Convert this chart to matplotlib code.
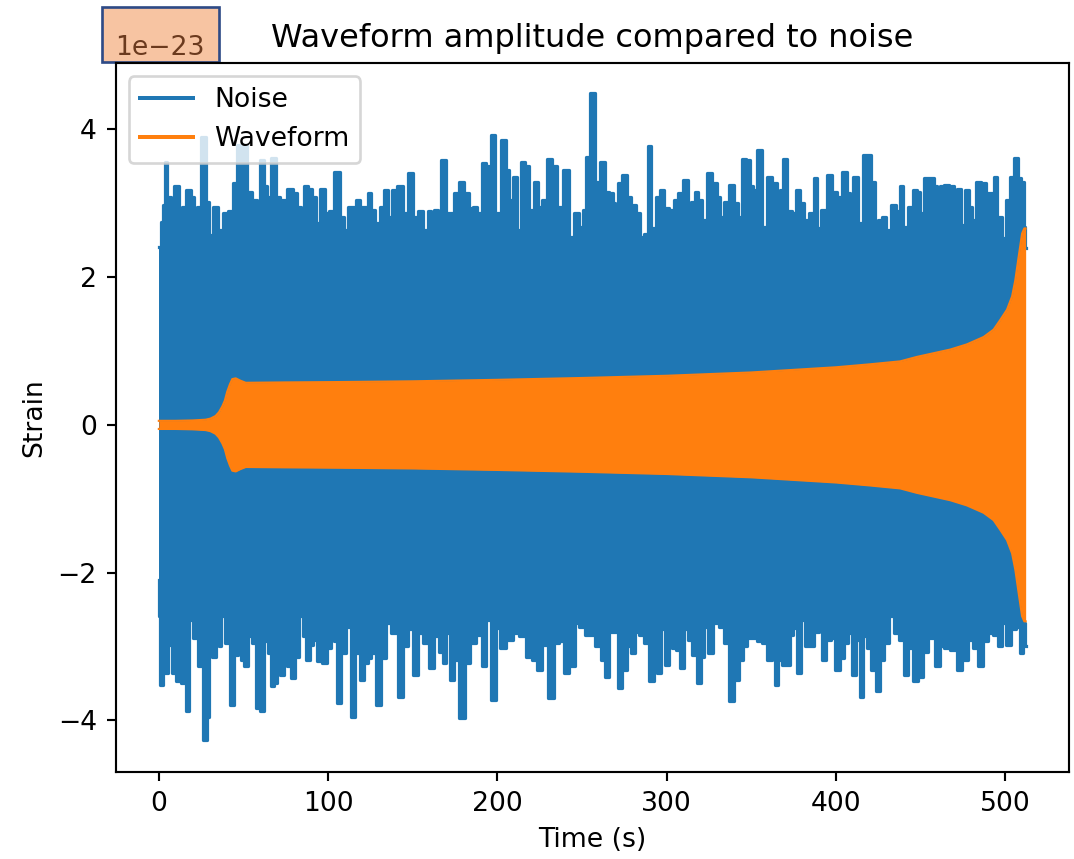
import numpy as np
import matplotlib
matplotlib.use("Agg")
import matplotlib.pyplot as plt
from matplotlib.patches import Rectangle

SCALE = 1e-23  # strain values below are in units of 1e-23

# Noise: upper peaks (time in s, strain)
noise_top_t = [0, 2.0, 3.0, 3.9, 5.9, 7.9, 9.5, 10.8, 12.8, 14.8, 16.8, 18.1, 19.7, 21.7,
               23.7, 26.6, 28.6, 30.6, 33.5, 36.5, 39.4, 42.4, 45.4, 47.3, 50.3, 53.3, 57.2,
               59.2, 60.7, 63.1, 64.1, 68.0, 70.0, 73.0, 77.9, 80.9, 82.8, 84.8, 86.8, 89.7,
               91.7, 93.7, 96.6, 99.6, 101.6, 105.5, 108.5, 110.5, 112.4, 115.4, 117.4, 120.3,
               122.3, 124.3, 126.2, 129.2, 132.1, 134.1, 136.1, 139.1, 142.0, 146.0, 148.9,
               151.9, 154.8, 157.8, 159.8, 161.7, 163.7, 165.7, 168.2, 170.6, 173.6, 175.5,
               178.5, 181.5, 184.4, 186.4, 189.3, 192.3, 194.3, 195.3, 197.2, 200.2, 203.6,
               206.1, 208.1, 210.1, 212.6, 215.0, 217.9, 219.9, 222.9, 224.9, 227.8, 230.8,
               233.7, 236.7, 240.6, 244.2, 246.5, 249.5, 251.5, 253.5, 256.4, 259.4,
               262.3, 264.3, 267.2, 269.2, 270.2, 272.2, 275.1, 278.1, 279.5, 281.0, 283.0,
               285.0, 288.0, 289.9, 291.9, 294.9, 296.8, 299.4, 302.7, 305.7, 307.7, 311.6,
               313.6, 315.6, 317.5, 319.5, 322.5, 325.4, 328.4, 330.4, 332.3, 335.3, 338.8,
               341.2, 343.2, 346.1, 348.1, 350.1, 352.1, 355.0, 357.0, 360.9, 363.9, 365.9,
               367.8, 369.8, 372.8, 374.7, 377.7, 379.7, 382.6, 385.6, 388.1, 389.5, 392.5,
               396.4, 399.4, 402.3, 405.3, 407.3, 409.2, 411.2, 414.2, 417.1, 419.1, 422.1,
               423.6, 426.0, 428.0, 430.9, 433.9, 436.9, 438.8, 440.8, 443.8, 446.7, 448.7,
               450.7, 453.6, 456.6, 458.6, 460.5, 462.5, 465.5, 468.4, 470.4, 472.4, 475.3,
               477.3, 479.3, 481.2, 484.2, 487.2, 489.5, 492.1, 494.1, 496.6, 499.4, 501.9,
               503.9, 506.5, 508.5, 509.8, 511.8, 512.0]
noise_top = [2.41, 2.75, 2.98, 3.56, 3.09, 2.87, 3.23, 3.23, 2.82, 2.95, 3.18, 3.18, 3.09, 2.91,
             2.95, 3.90, 3.02, 2.57, 2.95, 2.64, 2.87, 2.89, 3.27, 3.79, 3.79, 3.16, 3.05,
             2.59, 3.59, 3.23, 3.09, 3.62, 3.09, 3.05, 3.20, 3.14, 2.95, 2.82, 3.23, 3.20,
             3.09, 2.73, 3.20, 2.87, 2.89, 3.43, 2.82, 2.64, 2.95, 2.95, 3.05, 2.95,
             2.95, 3.14, 2.91, 2.73, 2.95, 3.18, 2.82, 3.18, 3.23, 2.87, 3.41,
             2.82, 2.89, 2.64, 2.89, 2.62, 2.91, 2.82, 3.58, 2.87, 2.87, 3.14,
             3.29, 3.14, 2.93, 2.95, 2.87, 3.54, 3.50, 3.05, 3.92, 2.87, 3.86,
             3.45, 3.05, 3.36, 2.64, 3.56, 3.50, 2.91, 3.29, 2.95, 3.05, 3.60,
             3.50, 2.95, 3.45, 2.55, 2.87, 2.68, 2.91, 3.63, 4.49, 3.29,
             3.56, 3.16, 3.14, 3.00, 2.82, 3.27, 3.38, 3.09, 2.75, 2.98, 2.87,
             2.55, 2.59, 3.77, 2.66, 3.09, 3.18, 2.93, 2.91, 3.05, 3.14, 3.31,
             2.73, 3.02, 3.16, 3.05, 2.77, 3.41, 3.27, 3.09, 2.82, 3.02, 3.25,
             3.00, 2.82, 3.60, 3.59, 3.23, 3.18, 3.72, 2.68, 3.36, 3.27, 2.91,
             3.18, 3.60, 2.89, 2.87, 3.18, 3.00, 2.77, 2.87, 3.34, 2.66, 2.91,
             3.38, 3.16, 3.09, 3.43, 3.14, 2.87, 3.36, 2.73, 3.65, 3.65, 3.29,
             2.59, 2.77, 2.82, 2.64, 2.98, 2.89, 3.23, 2.68, 2.95, 3.18, 3.16,
             2.87, 3.34, 3.34, 3.23, 2.53, 3.23, 3.25, 3.23, 2.71, 3.20, 2.71,
             3.18, 2.95, 2.77, 3.29, 3.27, 3.14, 3.14, 3.36, 2.82, 2.53, 3.05,
             3.36, 3.61, 3.34, 3.29, 2.68, 2.40]

# Noise: lower troughs (time in s, strain)
noise_bot_t = [0, 0.3, 1.6, 3.9, 6.9, 8.9, 11.8, 14.8, 16.8, 18.7, 21.7, 24.7, 27.2, 29.2,
               30.6, 32.5, 34.5, 36.5, 37.5, 40.4, 43.4, 45.8, 47.7, 49.3, 51.3, 54.2, 56.2,
               58.2, 61.1, 63.5, 65.5, 67.5, 69.0, 70.6, 73.0, 74.9, 76.9, 79.3, 81.9, 84.2,
               85.8, 87.8, 90.3, 92.3, 94.7, 97.6, 100.6, 102.6, 104.5, 106.5, 108.9, 112.0,
               114.8, 117.4, 120.3, 122.3, 124.3, 126.6, 130.2, 132.1, 135.7, 139.1, 143.0,
               146.0, 147.9, 151.9, 154.8, 157.8, 161.3, 163.7, 166.7, 168.6, 171.0, 173.0,
               175.5, 179.5, 182.4, 185.4, 189.3, 192.3, 194.5, 197.6, 200.2, 203.2, 207.1,
               211.0, 215.0, 218.9, 221.9, 224.5, 227.8, 231.8, 234.7, 237.7, 240.6, 243.6,
               247.5, 248.5, 254.4, 260.3, 262.3, 264.3, 267.2, 269.8, 272.6, 275.1, 277.7,
               280.1, 282.4, 285.0, 288.0, 290.9, 293.5, 294.9, 297.8, 300.2, 302.1, 304.7,
               306.7, 308.7, 311.2, 313.6, 316.5, 319.1, 321.1, 323.1, 325.4, 329.4, 332.3,
               335.3, 338.8, 341.2, 344.2, 346.1, 349.1, 352.1, 355.0, 358.0, 360.9, 362.9,
               364.9, 366.8, 369.8, 371.8, 373.7, 375.7, 378.3, 380.6, 382.6, 385.6, 388.5,
               390.9, 393.1, 395.4, 398.4, 400.8, 403.3, 406.3, 408.3, 410.8, 413.2, 414.8,
               417.1, 419.1, 421.7, 425.0, 427.0, 429.6, 432.9, 435.9, 438.8, 441.4, 443.8,
               446.7, 449.7, 452.6, 456.6, 459.9, 462.5, 465.5, 469.4, 473.0, 476.3, 479.7,
               482.2, 485.2, 488.1, 491.1, 494.7, 496.6, 499.0, 501.9, 504.9, 507.9, 509.4,
               511.3, 512.0]
noise_bot = [-2.10, -2.59, -3.52, -3.36, -2.98, -3.36, -3.47, -3.50, -3.88, -2.64, -2.89, -3.27,
             -4.26, -3.95, -3.00, -3.14, -2.98, -3.00, -2.59, -2.95, -3.79, -3.11, -2.80,
             -3.18, -3.27, -2.86, -2.95, -3.83, -3.88, -2.93, -3.09, -3.54, -3.50, -2.98,
             -3.38, -3.20, -3.27, -3.43, -3.14, -2.59, -2.86, -3.18, -2.98, -2.91, -3.20,
             -3.23, -3.02, -2.86, -2.93, -3.77, -3.09, -2.73, -3.95, -3.09, -3.45, -3.23,
             -3.16, -3.09, -3.79, -3.16, -2.68, -2.82, -3.68, -3.00, -2.77, -3.38, -2.82,
             -2.95, -3.29, -2.86, -3.07, -3.23, -2.82, -3.45, -3.18, -3.97, -3.23, -2.95,
             -2.84, -3.27, -2.64, -3.72, -2.75, -3.02, -2.91, -2.82, -2.86, -3.14, -3.18,
             -3.32, -2.98, -3.70, -2.95, -2.93, -3.36, -3.27, -2.68, -2.73, -2.84, -3.00,
             -3.18, -3.41, -2.80, -2.80, -3.56, -3.32, -3.00, -3.09, -2.80, -2.84, -2.95,
             -3.47, -2.64, -3.36, -2.77, -3.25, -2.71, -3.02, -3.05, -3.29, -2.77, -2.91,
             -3.11, -3.50, -3.14, -2.73, -3.09, -2.68, -2.73, -2.95, -3.74, -3.45, -3.18,
             -3.00, -2.89, -2.89, -2.93, -2.95, -3.18, -2.86, -3.52, -3.18, -3.25, -3.25,
             -2.84, -2.75, -3.36, -2.64, -3.00, -3.00, -2.80, -2.55, -3.18, -2.91, -2.89,
             -3.32, -3.16, -2.95, -2.82, -3.38, -2.91, -3.68, -2.86, -3.02, -3.32, -3.61,
             -3.18, -2.95, -2.59, -2.82, -2.91, -3.38, -3.02, -3.47, -3.41, -3.07, -2.89,
             -3.27, -3.00, -3.02, -3.05, -3.32, -3.18, -2.91, -3.02, -3.27, -2.93, -2.82,
             -2.84, -3.00, -2.68, -2.98, -2.77, -2.73, -3.09, -2.68, -3.00]

# Waveform: envelope of the chirp (time in s, strain amplitude)
wave_t = [0, 10, 20, 27.6, 30.5, 33.5, 35.5, 37.5, 39.0, 40.4, 42.0, 43.4, 45.4, 48.0,
          51.3, 75, 106.5, 150, 200, 250, 300, 350, 400, 420, 437.9, 447.7, 457.6, 467.5,
          477.3, 487.2, 493.1, 497.0, 501.0, 504.0, 505.9, 507.9, 509.9, 511.2, 512.0]
wave_amp = [0.055, 0.055, 0.06, 0.07, 0.085, 0.12, 0.17, 0.25, 0.33, 0.45, 0.55, 0.62, 0.63,
            0.60, 0.57, 0.575, 0.58, 0.59, 0.61, 0.635, 0.665, 0.71, 0.78, 0.82, 0.86, 0.92,
            0.97, 1.02, 1.09, 1.19, 1.29, 1.42, 1.56, 1.74, 1.96, 2.28, 2.59, 2.66, 2.66]

noise_color = "#1f77b4"
wave_color = "#ff7f0e"

W, H, DPI = 1074, 859, 192
fig = plt.figure(figsize=(W / DPI, H / DPI), dpi=DPI)
ax = fig.add_axes([115.5 / W, (H - 772) / H, 953.5 / W, 709 / H])

tt = np.asarray(noise_top_t)
tv = np.asarray(noise_top) * SCALE
bt = np.asarray(noise_bot_t)
bv = np.asarray(noise_bot) * SCALE

# noise band: filled steps from the zero line out to each peak
ax.fill_between(tt, 0, tv, step="mid", color=noise_color, lw=0)
ax.fill_between(bt, bv, 0, step="mid", color=noise_color, lw=0)
ax.step(tt, tv, where="mid", color=noise_color, lw=1.2, label="Noise")
ax.step(bt, bv, where="mid", color=noise_color, lw=1.2)

wt = np.asarray(wave_t)
wa = np.asarray(wave_amp) * SCALE
ax.fill_between(wt, -wa, wa, color=wave_color, lw=0, zorder=3)
ax.plot(wt, wa, color=wave_color, lw=0.8, zorder=3, label="Waveform")
ax.plot(wt, -wa, color=wave_color, lw=0.8, zorder=3)

ax.set_xlim(-25.6, 537.6)
ax.set_ylim(-4.70 * SCALE, 4.90 * SCALE)
ax.set_xticks([0, 100, 200, 300, 400, 500])
ax.set_yticks(np.array([-4, -2, 0, 2, 4]) * SCALE)

ax.set_title("Waveform amplitude compared to noise")
ax.set_xlabel("Time (s)")
ax.set_ylabel("Strain")
leg = ax.legend(loc="upper left")
for handle in leg.get_lines():
    handle.set_linewidth(1.5)

# highlighted scale factor label
ax.yaxis.get_offset_text().set_color("#6b3a1e")
fig.patches.append(Rectangle((102 / W, (H - 62) / H), 117 / W, 55 / H,
                             transform=fig.transFigure, facecolor="#f7c4a2",
                             edgecolor="#2e4a86", lw=1.0, zorder=-1))

fig.savefig("out.png", dpi=DPI)
